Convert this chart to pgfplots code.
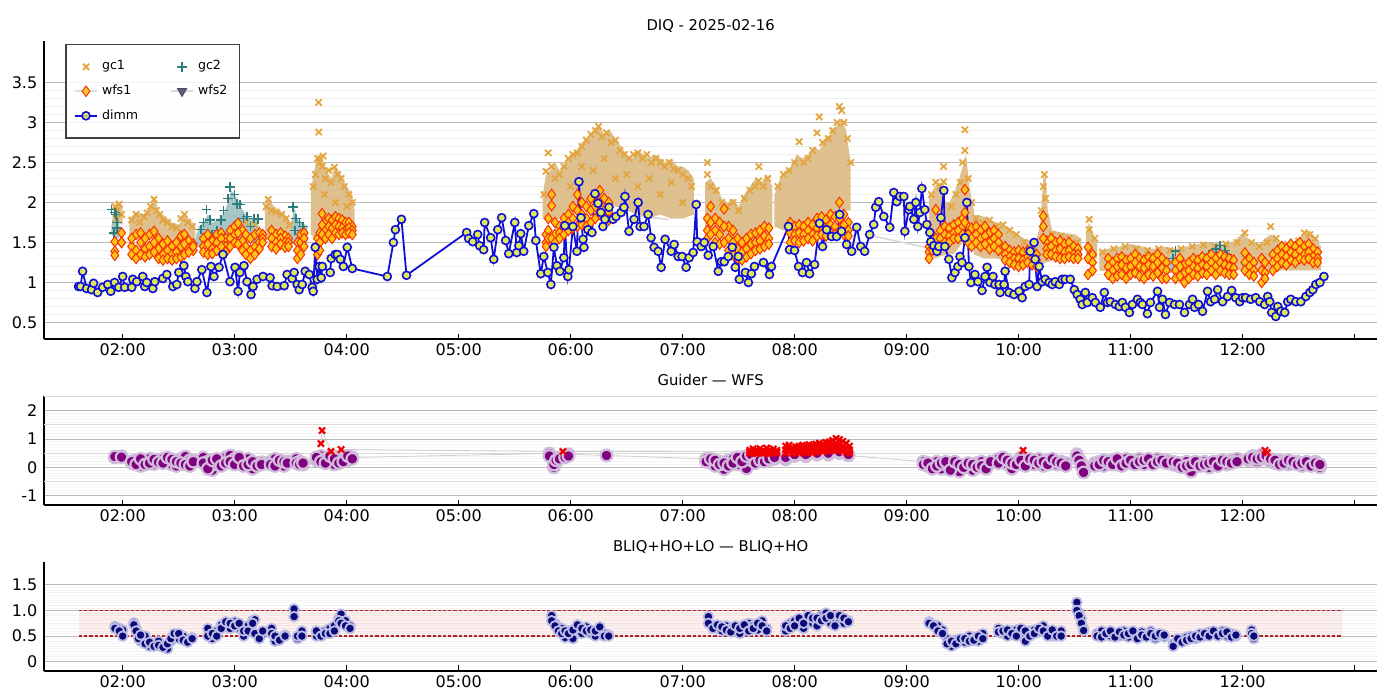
\documentclass[border=0pt]{standalone}
\usepackage{fontspec}
\setmainfont{DejaVu Sans}
\usepackage{pgfplots}
\pgfplotsset{compat=1.18}
\usepackage{pgfplotstable}

\definecolor{gcone}{RGB}{228,165,62}
\definecolor{gconecloud}{RGB}{222,192,142}
\definecolor{gctwo}{RGB}{45,125,125}
\definecolor{gctwocloud}{RGB}{165,198,196}
\definecolor{wfsfill}{RGB}{255,195,20}
\definecolor{wfsedge}{RGB}{245,50,0}
\definecolor{wfstwo}{RGB}{80,80,100}
\definecolor{dimmblue}{RGB}{15,15,215}
\definecolor{dimmfill}{RGB}{222,232,90}
\definecolor{purp}{RGB}{128,0,128}
\definecolor{purpedge}{RGB}{208,188,218}
\definecolor{redx}{RGB}{240,0,0}
\definecolor{navy}{RGB}{10,10,120}
\definecolor{navyedge}{RGB}{188,188,228}
\definecolor{dashred}{RGB}{180,30,30}

\pgfplotstableread{
t y1 y2 y3
1.93 1.51 1.39 1.34
1.99 1.62 1.5 1.5
2.08 1.45 1.35 1.55
2.12 1.6 1.4 1.3
2.16 1.5 1.62 1.35
2.2 1.42 1.55 1.32
2.24 1.6 1.45 1.35
2.28 1.64 1.5 1.38
2.32 1.55 1.42 1.3
2.36 1.48 1.35 1.28
2.4 1.52 1.4 1.3
2.44 1.45 1.35 1.28
2.48 1.5 1.38 1.3
2.52 1.58 1.45 1.32
2.55 1.6 1.48 1.35
2.59 1.52 1.42 1.38
2.63 1.48 1.4 1.45
2.72 1.55 1.45 1.38
2.76 1.6 1.48 1.35
2.8 1.52 1.42 1.36
2.84 1.6 1.5 1.4
2.88 1.62 1.55 1.45
2.92 1.55 1.45 1.38
2.96 1.65 1.55 1.45
3.0 1.7 1.6 1.5
3.03 1.74 1.62 1.48
3.07 1.65 1.52 1.4
3.1 1.6 1.45 1.35
3.14 1.55 1.4 1.3
3.18 1.6 1.45 1.35
3.22 1.62 1.5 1.42
3.25 1.6 1.55 1.5
3.33 1.65 1.55 1.45
3.37 1.6 1.5 1.42
3.41 1.62 1.55 1.48
3.45 1.58 1.5 1.44
3.48 1.55 1.5 1.45
3.56 1.5 1.4 1.3
3.59 1.6 1.5 1.35
3.62 1.62 1.55 1.45
3.74 1.55 1.45 1.35
3.76 1.62 1.5 1.4
3.78 1.86 1.72 1.6
3.81 1.75 1.65 1.55
3.84 1.8 1.7 1.6
3.87 1.78 1.68 1.55
3.9 1.82 1.72 1.62
3.93 1.8 1.7 1.6
3.96 1.78 1.68 1.62
3.99 1.75 1.65 1.6
4.02 1.75 1.68 1.62
4.05 1.7 1.65 1.6
5.78 1.6 1.5 1.45
5.8 1.8 1.65 1.55
5.83 2.1 1.96 1.55
5.86 1.75 1.6 1.5
5.9 1.7 1.62 1.55
5.94 1.8 1.7 1.6
5.98 1.85 1.75 1.65
6.02 1.95 1.8 1.68
6.06 2.1 1.9 1.7
6.1 2.0 1.85 1.72
6.14 1.95 1.8 1.7
6.18 2.05 1.9 1.75
6.22 2.1 1.95 1.8
6.26 2.15 2.0 1.85
6.3 2.05 1.9 1.8
6.34 2.0 1.88 1.78
7.22 1.8 1.65 1.55
7.25 1.95 1.75 1.6
7.29 1.8 1.65 1.5
7.33 1.75 1.6 1.48
7.37 1.92 1.7 1.5
7.41 1.7 1.55 1.4
7.45 1.65 1.5 1.35
7.49 1.55 1.42 1.3
7.53 1.5 1.38 1.28
7.57 1.55 1.42 1.32
7.61 1.6 1.48 1.36
7.65 1.62 1.5 1.4
7.69 1.65 1.52 1.42
7.73 1.7 1.58 1.45
7.77 1.68 1.55 1.48
7.96 1.75 1.62 1.5
8.0 1.7 1.6 1.52
8.04 1.72 1.62 1.5
8.08 1.7 1.6 1.52
8.12 1.75 1.65 1.55
8.16 1.72 1.6 1.52
8.2 1.8 1.68 1.58
8.24 1.82 1.7 1.6
8.28 1.78 1.68 1.58
8.32 1.85 1.72 1.62
8.36 1.82 1.7 1.6
8.4 2.0 1.8 1.65
8.44 1.85 1.72 1.6
8.48 1.75 1.65 1.58
9.2 1.45 1.38 1.3
9.23 1.6 1.5 1.4
9.26 1.91 1.55 1.42
9.3 1.65 1.55 1.45
9.34 1.7 1.6 1.5
9.38 1.68 1.58 1.5
9.42 1.72 1.62 1.55
9.46 1.75 1.65 1.55
9.5 1.8 1.7 1.6
9.52 2.16 1.875 1.75
9.55 1.7 1.6 1.5
9.58 1.68 1.55 1.45
9.62 1.7 1.6 1.5
9.66 1.65 1.55 1.45
9.7 1.7 1.58 1.48
9.74 1.62 1.5 1.42
9.78 1.65 1.55 1.45
9.82 1.6 1.5 1.4
9.88 1.45 1.35 1.28
9.92 1.4 1.32 1.25
9.96 1.38 1.3 1.22
10.0 1.4 1.3 1.2
10.04 1.38 1.28 1.22
10.08 1.4 1.32 1.25
10.12 1.38 1.3 1.22
10.16 1.35 1.28 1.2
10.22 1.83 1.7 1.55
10.25 1.52 1.42 1.35
10.29 1.55 1.45 1.35
10.33 1.5 1.4 1.32
10.37 1.52 1.42 1.3
10.41 1.48 1.38 1.3
10.45 1.5 1.4 1.32
10.49 1.45 1.35 1.3
10.53 1.42 1.35 1.3
10.62 1.44 1.3 1.1
10.66 1.35 1.25 1.15
10.8 1.3 1.2 1.1
10.84 1.25 1.15 1.05
10.88 1.3 1.2 1.08
10.92 1.32 1.22 1.1
10.96 1.28 1.18 1.05
11.0 1.3 1.2 1.1
11.04 1.35 1.25 1.12
11.08 1.3 1.2 1.08
11.12 1.28 1.18 1.05
11.16 1.32 1.22 1.1
11.2 1.3 1.2 1.08
11.24 1.35 1.25 1.12
11.28 1.3 1.18 1.05
11.32 1.25 1.15 1.05
11.4 1.25 1.15 1.05
11.44 1.3 1.2 1.08
11.48 1.22 1.12 1.0
11.52 1.25 1.15 1.05
11.56 1.3 1.2 1.1
11.6 1.28 1.18 1.08
11.64 1.32 1.22 1.12
11.68 1.3 1.2 1.1
11.72 1.35 1.25 1.15
11.76 1.3 1.2 1.1
11.8 1.35 1.25 1.15
11.84 1.32 1.22 1.12
11.88 1.3 1.2 1.1
11.92 1.28 1.18 1.1
12.02 1.37 1.25 1.15
12.06 1.3 1.2 1.1
12.1 1.25 1.15 1.08
12.17 1.3 1.15 1.0
12.2 1.25 1.12 1.05
12.27 1.35 1.25 1.15
12.31 1.4 1.3 1.2
12.35 1.45 1.35 1.25
12.39 1.42 1.32 1.22
12.43 1.48 1.38 1.28
12.47 1.45 1.35 1.25
12.51 1.5 1.4 1.3
12.55 1.45 1.35 1.28
12.59 1.48 1.38 1.3
12.63 1.42 1.32 1.25
12.67 1.38 1.3 1.25
}\wfsone

\pgfplotstableread{
t a b
1.93 0.35 0.38
1.99 0.39 0.36
2.08 0.15 0.2
2.12 0.25 0.1
2.16 0.05 0.3
2.2 0.2 0.1
2.24 0.3 0.15
2.28 0.12 0.28
2.32 0.25 0.18
2.36 0.3 0.15
2.4 0.22 0.35
2.44 0.1 0.28
2.48 0.05 0.2
2.52 0.3 0.15
2.56 0.38 0.1
2.6 0.25 0.05
2.63 0.25 0.2
2.72 0.35 0.15
2.76 0.2 -0.05
2.8 -0.1 0.25
2.84 0.1 0.3
2.88 0.2 0.05
2.92 0.35 0.15
2.96 0.42 0.2
3.0 0.3 0.1
3.04 0.15 0.35
3.08 0.25 0.05
3.12 0.3 0.1
3.16 -0.05 0.2
3.2 0.15 0.05
3.24 0.18 0.1
3.32 0.2 0.1
3.36 0.3 0.05
3.4 0.15 0.25
3.44 0.05 0.2
3.47 0.2 0.15
3.55 0.3 0.15
3.58 0.2 0.1
3.61 0.1 0.15
3.73 0.25 0.35
3.77 0.4 0.2
3.81 0.3 0.15
3.85 0.2 0.4
3.89 0.1 0.3
3.93 0.35 0.15
3.97 0.3 0.2
4.01 0.25 0.4
4.05 0.35 0.3
5.81 0.49 0.4
5.85 0.0 0.1
5.87 0.18 0.25
5.9 0.35 0.3
5.95 0.42 0.35
5.98 0.46 0.4
6.32 0.42 0.42
7.21 0.3 0.2
7.25 0.15 0.3
7.29 0.05 0.25
7.33 0.2 0.1
7.37 -0.07 0.15
7.41 0.25 0.05
7.45 0.3 0.15
7.49 0.1 0.35
7.53 0.35 0.2
7.57 -0.04 0.4
7.61 0.25 0.45
7.65 0.3 0.15
7.69 0.4 0.25
7.73 0.35 0.2
7.77 0.25 0.3
7.82 0.3 0.35
7.92 0.28 0.35
8.0 0.4 0.45
8.1 0.39 0.45
8.2 0.45 0.5
8.3 0.45 0.5
8.4 0.5 0.55
8.48 0.42 0.45
9.15 0.2 0.1
9.19 0.05 0.15
9.23 0.1 -0.05
9.27 0.2 0.05
9.31 -0.05 0.15
9.35 0.1 0.2
9.39 0.15 -0.1
9.43 0.0 0.2
9.47 -0.15 0.1
9.51 0.1 0.0
9.55 0.05 0.15
9.59 -0.1 0.1
9.63 0.15 0.0
9.67 0.2 0.05
9.71 0.1 -0.05
9.75 0.15 0.2
9.82 0.3 0.15
9.86 0.2 0.35
9.9 0.1 0.25
9.94 -0.05 0.15
9.98 0.2 0.1
10.02 0.35 0.25
10.06 0.15 0.05
10.1 0.2 0.3
10.14 0.1 0.25
10.18 0.3 0.15
10.22 0.05 0.2
10.26 0.25 0.1
10.3 0.15 0.3
10.34 0.1 0.2
10.38 0.2 0.15
10.42 0.15 0.05
10.52 0.46 0.4
10.54 0.3 0.25
10.56 0.15 0.05
10.58 -0.1 -0.18
10.68 0.15 0.05
10.72 0.2 0.1
10.76 0.05 0.25
10.8 0.15 0.2
10.84 0.25 0.1
10.88 0.1 0.3
10.92 0.2 0.05
10.96 0.3 0.15
11.0 0.15 0.25
11.04 0.2 0.1
11.08 0.3 0.2
11.12 0.1 0.25
11.16 0.25 0.3
11.2 0.15 0.1
11.24 0.3 0.2
11.28 0.2 0.25
11.32 0.25 0.15
11.38 0.1 0.2
11.42 0.05 0.15
11.46 0.15 0.0
11.5 0.2 0.05
11.54 -0.15 0.1
11.58 0.1 0.2
11.62 0.15 0.05
11.66 0.2 0.1
11.7 0.0 0.15
11.74 0.1 0.2
11.78 0.2 0.05
11.82 0.15 0.25
11.86 0.1 0.2
11.9 0.25 0.15
11.95 0.3 0.2
12.05 0.25 0.3
12.09 0.4 0.35
12.13 0.2 0.3
12.17 0.45 0.35
12.21 0.3 0.4
12.25 0.2 0.3
12.29 0.15 0.25
12.33 0.25 0.1
12.37 0.2 0.15
12.41 0.1 0.25
12.45 0.15 0.2
12.49 0.2 0.1
12.53 0.05 0.15
12.57 0.15 0.2
12.61 0.1 0.05
12.65 0.2 0.15
12.69 0.0 0.1
}\guid

\pgfplotstableread{
t a b c
7.6 0.5 0.6 0.55
7.63 0.55 0.65 0.5
7.66 0.5 0.62 0.58
7.69 0.52 0.66 0.55
7.72 0.5 0.6 0.56
7.75 0.55 0.68 0.5
7.78 0.5 0.62 0.57
7.81 0.52 0.65 0.55
7.84 0.5 0.6 0.55
7.92 0.5 0.75 0.62
7.95 0.55 0.78 0.65
7.98 0.5 0.7 0.6
8.01 0.52 0.72 0.62
8.04 0.5 0.75 0.6
8.07 0.55 0.78 0.65
8.1 0.52 0.75 0.62
8.13 0.55 0.8 0.68
8.16 0.5 0.78 0.65
8.19 0.55 0.82 0.68
8.22 0.58 0.85 0.7
8.25 0.55 0.82 0.7
8.28 0.6 0.88 0.72
8.31 0.58 0.9 0.75
8.34 0.62 0.95 0.78
8.37 0.6 1.02 0.8
8.4 0.62 0.98 0.8
8.43 0.58 0.92 0.75
8.46 0.55 0.85 0.7
8.49 0.5 0.75 0.62
}\redx

\pgfplotstableread{
t a b
1.93 0.69 0.65
1.97 0.65 0.6
2.0 0.62 0.5
2.1 0.76 0.72
2.12 0.65 0.6
2.14 0.5 0.45
2.16 0.4 0.52
2.2 0.5 0.35
2.24 0.3 0.38
2.28 0.35 0.3
2.32 0.4 0.32
2.36 0.3 0.28
2.4 0.25 0.35
2.43 0.4 0.45
2.46 0.5 0.55
2.5 0.45 0.55
2.54 0.5 0.42
2.58 0.4 0.38
2.62 0.47 0.45
2.76 0.65 0.5
2.8 0.45 0.55
2.84 0.6 0.5
2.88 0.72 0.65
2.92 0.7 0.78
2.96 0.65 0.75
3.0 0.78 0.7
3.04 0.65 0.75
3.08 0.5 0.6
3.12 0.7 0.6
3.16 0.8 0.75
3.18 0.82 0.55
3.22 0.5 0.45
3.25 0.55 0.6
3.33 0.65 0.55
3.36 0.4 0.5
3.4 0.45 0.42
3.45 0.52 0.5
3.53 1.03 0.88
3.56 0.45 0.5
3.6 0.6 0.5
3.73 0.5 0.6
3.77 0.55 0.5
3.81 0.6 0.55
3.85 0.65 0.55
3.89 0.7 0.6
3.93 0.85 0.8
3.95 0.93 0.75
3.99 0.8 0.7
4.03 0.7 0.65
5.83 0.9 0.8
5.86 0.75 0.7
5.89 0.68 0.6
5.92 0.65 0.55
5.95 0.47 0.6
5.98 0.6 0.55
6.02 0.45 0.62
6.06 0.6 0.72
6.1 0.55 0.65
6.14 0.68 0.6
6.18 0.55 0.62
6.22 0.5 0.6
6.26 0.6 0.68
6.3 0.55 0.5
6.34 0.52 0.5
7.23 0.88 0.75
7.27 0.7 0.65
7.31 0.65 0.72
7.35 0.6 0.68
7.39 0.7 0.62
7.43 0.65 0.58
7.47 0.6 0.7
7.51 0.55 0.65
7.55 0.68 0.72
7.59 0.75 0.6
7.63 0.7 0.65
7.67 0.62 0.75
7.71 0.8 0.7
7.75 0.65 0.6
7.92 0.6 0.7
7.96 0.75 0.65
8.0 0.8 0.7
8.04 0.72 0.85
8.08 0.65 0.75
8.12 0.8 0.9
8.16 0.75 0.85
8.2 0.7 0.85
8.24 0.9 0.8
8.28 0.95 0.85
8.32 0.75 0.9
8.36 0.85 0.7
8.4 0.8 0.9
8.44 0.75 0.85
8.48 0.8 0.78
9.2 0.78 0.75
9.24 0.72 0.7
9.28 0.7 0.6
9.32 0.62 0.55
9.36 0.45 0.35
9.4 0.3 0.4
9.44 0.42 0.35
9.48 0.4 0.45
9.52 0.38 0.45
9.56 0.5 0.4
9.6 0.45 0.42
9.64 0.4 0.5
9.68 0.55 0.45
9.82 0.65 0.58
9.86 0.55 0.6
9.9 0.5 0.62
9.94 0.6 0.55
9.98 0.62 0.5
10.02 0.55 0.65
10.06 0.4 0.6
10.1 0.6 0.5
10.14 0.62 0.55
10.18 0.58 0.65
10.22 0.7 0.6
10.26 0.6 0.5
10.3 0.5 0.62
10.34 0.55 0.5
10.38 0.6 0.5
10.52 1.16 1.0
10.54 0.96 0.9
10.56 0.84 0.75
10.58 0.65 0.61
10.7 0.55 0.5
10.74 0.6 0.48
10.78 0.52 0.55
10.82 0.5 0.6
10.86 0.55 0.48
10.9 0.5 0.58
10.94 0.6 0.52
10.98 0.48 0.55
11.02 0.55 0.6
11.06 0.5 0.45
11.1 0.58 0.52
11.14 0.52 0.48
11.18 0.6 0.55
11.22 0.45 0.5
11.26 0.5 0.55
11.3 0.48 0.52
11.38 0.35 0.3
11.42 0.4 0.45
11.46 0.45 0.38
11.5 0.48 0.42
11.54 0.5 0.45
11.58 0.45 0.5
11.62 0.55 0.48
11.66 0.5 0.55
11.7 0.58 0.5
11.74 0.55 0.6
11.78 0.52 0.5
11.82 0.6 0.55
11.86 0.5 0.58
11.9 0.55 0.48
11.94 0.5 0.52
12.08 0.62 0.55
12.1 0.45 0.5
}\bliq

\pgfplotsset{
  every axis title/.style={at={(0.5,1)}, anchor=base, yshift=5pt, font=\fontsize{7.4}{8.5}\selectfont},
  base/.style={
    scale only axis, width=666.35pt, xmin=1.30, xmax=13.2,
    anchor=south west,
    axis x line*=bottom, axis y line*=left,
    axis line style={-, line width=0.8pt, black},
    xtick={2,3,4,5,6,7,8,9,10,11,12,13},
    xticklabels={02:00,03:00,04:00,05:00,06:00,07:00,08:00,09:00,10:00,11:00,12:00,{}},
    xtick align=inside, major tick length=2.7pt,
    xtick style={black, line width=0.5pt},
    ytick style={draw=none}, minor tick length=0pt,
    ymajorgrids, yminorgrids,
    major grid style={gray!55, line width=0.5pt},
    tick label style={font=\fontsize{8}{9}\selectfont},
    xticklabel style={yshift=1.3pt},
    /pgf/number format/assume math mode=true,
  },
  shortleg/.style={legend image code/.code={\draw[mark repeat=2,mark phase=2,##1] plot coordinates {(0pt,0pt) (5.5pt,0pt) (11pt,0pt)};}},
  purpmark/.style={mark=*, mark size=2.9pt, mark options={fill=purp, draw=purpedge, line width=1.1pt}},
  navymark/.style={mark=*, mark size=2.4pt, mark options={fill=navy, draw=navyedge, line width=0.9pt}},
}

\begin{document}
\begin{tikzpicture}
\path[use as bounding box] (0,0) rectangle (700pt,350pt);

% ---------------- top axis ----------------
\begin{axis}[base, at={(22.15pt,180.35pt)}, height=149.2pt,
  ymin=0.29, ymax=4.02, ytick={0.5,1,1.5,2,2.5,3,3.5}, minor y tick num=4,
  minor grid style={gray!14, line width=0.5pt},
  title={DIQ - 2025-02-16},
  legend columns=2,
  legend style={at={(0,1)}, anchor=north west, xshift=10.5pt, yshift=-1.5pt,
    draw=black!75, line width=0.7pt, fill=white, fill opacity=0.85, text opacity=1, draw opacity=1,
    font=\fontsize{6.3}{7.5}\selectfont, inner xsep=4pt, inner ysep=6pt, row sep=2pt,
    /tikz/every even column/.append style={column sep=14pt}},
  legend cell align=left,
]
% gc1 clouds
\addplot[fill=gconecloud, draw=none, forget plot] coordinates {(1.92,1.85)(1.94,2.0)(1.97,1.98)(2.0,1.95)(2.0,1.72)(1.96,1.75)(1.92,1.75)};
\addplot[fill=gconecloud, draw=none, forget plot] coordinates {(2.06,1.8)(2.12,1.88)(2.18,1.85)(2.22,1.9)(2.26,2.0)(2.29,2.05)(2.32,1.9)(2.38,1.82)(2.44,1.75)(2.5,1.72)(2.55,1.85)(2.6,1.78)(2.65,1.72)(2.65,1.5)(2.55,1.5)(2.45,1.48)(2.35,1.5)(2.25,1.55)(2.15,1.55)(2.06,1.55)};
\addplot[fill=gconecloud, draw=none, forget plot] coordinates {(3.27,1.95)(3.3,2.05)(3.35,1.95)(3.4,1.9)(3.45,1.85)(3.5,1.75)(3.5,1.5)(3.4,1.55)(3.27,1.55)};
\addplot[fill=gconecloud, draw=none, forget plot] coordinates {(3.68,2.15)(3.71,2.4)(3.74,2.6)(3.78,2.55)(3.82,2.4)(3.86,2.3)(3.9,2.45)(3.95,2.35)(4.0,2.2)(4.05,2.1)(4.07,1.9)(4.07,1.6)(4.0,1.6)(3.9,1.65)(3.8,1.6)(3.72,1.55)(3.68,1.6)};
\addplot[fill=gconecloud, draw=none, forget plot] coordinates {(5.75,2.1)(5.78,2.35)(5.82,2.4)(5.86,2.5)(5.9,2.4)(5.95,2.5)(6.0,2.6)(6.05,2.65)(6.1,2.75)(6.15,2.8)(6.2,2.9)(6.25,2.97)(6.3,2.85)(6.35,2.9)(6.4,2.8)(6.45,2.7)(6.5,2.6)(6.55,2.55)(6.6,2.65)(6.65,2.6)(6.7,2.55)(6.75,2.6)(6.8,2.55)(6.85,2.5)(6.9,2.55)(6.95,2.45)(7.0,2.45)(7.05,2.4)(7.1,2.3)(7.1,1.85)(7.0,1.8)(6.9,1.8)(6.8,1.85)(6.7,1.8)(6.6,1.85)(6.5,1.9)(6.4,1.95)(6.3,1.95)(6.2,1.9)(6.1,1.95)(6.0,1.85)(5.9,1.8)(5.8,1.75)(5.75,1.8)};
\addplot[fill=gconecloud, draw=none, forget plot] coordinates {(7.2,2.25)(7.25,2.3)(7.3,2.2)(7.35,2.05)(7.4,2.0)(7.45,2.05)(7.5,1.95)(7.55,2.1)(7.6,2.2)(7.65,2.3)(7.7,2.25)(7.75,2.35)(7.8,2.2)(7.8,1.65)(7.7,1.55)(7.6,1.45)(7.5,1.45)(7.4,1.5)(7.3,1.6)(7.2,1.7)};
\addplot[fill=gconecloud, draw=none, forget plot] coordinates {(7.82,2.1)(7.87,2.3)(7.92,2.4)(7.97,2.45)(8.02,2.6)(8.07,2.55)(8.12,2.6)(8.17,2.7)(8.22,2.65)(8.27,2.8)(8.32,2.85)(8.37,2.95)(8.42,3.05)(8.46,2.9)(8.5,2.5)(8.5,1.9)(8.4,1.9)(8.3,1.85)(8.2,1.8)(8.1,1.75)(8.0,1.7)(7.9,1.65)(7.82,1.7)};
\addplot[fill=gconecloud, draw=none, forget plot] coordinates {(9.2,2.05)(9.25,2.2)(9.3,2.25)(9.35,2.0)(9.38,2.0)(9.42,2.1)(9.47,2.3)(9.5,2.45)(9.53,2.6)(9.56,2.2)(9.6,1.9)(9.6,1.45)(9.5,1.5)(9.42,1.35)(9.35,1.35)(9.25,1.3)(9.2,1.4)};
\addplot[fill=gconecloud, draw=none, forget plot] coordinates {(9.6,1.85)(9.7,1.82)(9.8,1.75)(9.9,1.7)(9.97,1.62)(10.05,1.55)(10.15,1.5)(10.19,1.7)(10.22,2.3)(10.24,2.35)(10.26,1.9)(10.3,1.65)(10.4,1.62)(10.5,1.6)(10.56,1.55)(10.56,1.3)(10.45,1.28)(10.35,1.3)(10.25,1.25)(10.15,1.2)(10.05,1.2)(9.95,1.25)(9.8,1.3)(9.7,1.3)(9.6,1.35)};
\addplot[fill=gconecloud, draw=none, forget plot] coordinates {(10.6,1.6)(10.63,1.75)(10.67,1.6)(10.7,1.5)(10.7,1.3)(10.6,1.3)};
\addplot[fill=gconecloud, draw=none, forget plot] coordinates {(10.72,1.4)(10.9,1.45)(11.0,1.48)(11.1,1.45)(11.2,1.42)(11.3,1.45)(11.4,1.42)(11.5,1.45)(11.6,1.48)(11.7,1.5)(11.8,1.48)(11.9,1.5)(11.95,1.55)(12.0,1.62)(12.05,1.55)(12.1,1.5)(12.15,1.48)(12.2,1.55)(12.25,1.6)(12.3,1.55)(12.35,1.5)(12.45,1.5)(12.55,1.6)(12.6,1.65)(12.65,1.55)(12.7,1.45)(12.7,1.15)(12.5,1.15)(12.3,1.15)(12.1,1.15)(11.9,1.15)(11.7,1.15)(11.5,1.12)(11.3,1.12)(11.1,1.12)(10.9,1.12)(10.72,1.15)};
% gc1 markers
\addplot[only marks, mark=x, mark size=2.2pt, color=gcone, mark options={line width=0.9pt}, shortleg] coordinates {
(1.93,1.95)(1.95,1.9)(1.97,1.98)(1.99,1.85)(1.94,1.8)
(2.08,1.78)(2.12,1.85)(2.15,1.75)(2.19,1.82)(2.22,1.87)(2.25,1.95)(2.28,2.04)(2.3,1.9)(2.33,1.85)(2.36,1.78)(2.4,1.75)(2.44,1.7)(2.48,1.68)(2.52,1.8)(2.55,1.85)(2.58,1.75)(2.62,1.7)
(3.0,1.7)(3.1,1.75)(3.18,1.72)
(3.28,1.95)(3.3,2.04)(3.33,1.9)(3.37,1.88)(3.42,1.85)(3.46,1.8)(3.49,1.72)
(3.7,2.2)(3.72,2.35)(3.74,2.55)(3.75,3.25)(3.75,2.88)(3.76,2.5)(3.78,2.45)(3.79,2.58)(3.81,2.3)(3.84,2.4)(3.86,2.25)(3.89,2.44)(3.92,2.35)(3.95,2.3)(3.98,2.2)(4.02,2.1)(4.05,2.0)(3.8,2.1)(3.9,2.0)(4.0,1.95)
(5.76,2.1)(5.78,2.39)(5.8,2.62)(5.83,2.45)(5.86,2.3)(5.9,2.35)(5.94,2.45)(5.98,2.55)(6.02,2.6)(6.06,2.62)(6.1,2.7)(6.14,2.78)(6.18,2.85)(6.22,2.9)(6.25,2.95)(6.28,2.82)(6.32,2.87)(6.36,2.75)(6.4,2.78)(6.44,2.65)(6.48,2.6)(6.52,2.55)(6.56,2.6)(6.6,2.62)(6.64,2.55)(6.68,2.6)(6.72,2.5)(6.76,2.55)(6.8,2.5)(6.84,2.45)(6.88,2.5)(6.92,2.42)(6.96,2.4)(7.0,2.35)(7.05,2.3)(7.08,2.2)
(6.0,2.2)(6.2,2.4)(6.4,2.3)(6.6,2.2)(6.8,2.1)(7.0,2.0)(6.3,2.55)(6.5,2.35)(6.7,2.3)(6.9,2.25)(6.1,2.45)
(7.22,2.5)(7.22,2.35)(7.25,2.2)(7.3,2.15)(7.35,2.0)(7.4,1.95)(7.45,2.0)(7.5,1.9)(7.55,2.05)(7.6,2.15)(7.65,2.2)(7.68,2.45)(7.68,2.27)(7.72,2.2)(7.76,2.3)
(7.85,2.2)(7.9,2.35)(7.95,2.4)(8.0,2.5)(8.04,2.76)(8.08,2.5)(8.12,2.55)(8.16,2.65)(8.2,2.87)(8.22,3.07)(8.25,2.75)(8.3,2.8)(8.34,2.9)(8.38,3.0)(8.4,3.2)(8.42,3.15)(8.44,3.0)(8.47,2.8)(8.5,2.5)
(9.22,2.1)(9.26,2.25)(9.3,2.2)(9.33,2.45)(9.33,2.26)(9.4,1.95)(9.44,2.1)(9.48,2.25)(9.5,2.5)(9.52,2.91)(9.52,2.65)(9.55,2.3)(9.58,2.0)
(9.62,1.8)(9.68,1.75)(9.74,1.78)(9.8,1.7)(9.86,1.72)(9.92,1.65)(9.98,1.6)(10.05,1.5)(10.12,1.45)(10.2,1.9)(10.22,2.2)(10.23,2.35)(10.24,2.05)(10.3,1.6)(10.38,1.58)(10.45,1.55)(10.52,1.5)(10.63,1.79)(10.63,1.66)(10.68,1.55)
(10.75,1.38)(10.85,1.42)(10.95,1.45)(11.05,1.42)(11.15,1.4)(11.25,1.42)(11.35,1.4)(11.45,1.42)(11.55,1.45)(11.65,1.47)(11.75,1.45)(11.85,1.48)(11.95,1.5)(12.02,1.62)(12.08,1.5)(12.15,1.45)(12.22,1.5)(12.25,1.7)(12.3,1.55)(12.4,1.48)(12.5,1.52)(12.55,1.62)(12.6,1.6)(12.65,1.55)
};
\addlegendentry{gc1}
% gc2 clouds
\addplot[fill=gctwocloud, draw=none, forget plot] coordinates {(1.9,1.7)(1.92,1.9)(1.95,1.9)(1.97,1.75)(1.97,1.55)(1.93,1.55)(1.9,1.6)};
\addplot[fill=gctwocloud, draw=none, forget plot] coordinates {(2.65,1.55)(2.68,1.7)(2.72,1.75)(2.76,1.85)(2.8,1.75)(2.85,1.78)(2.9,1.85)(2.94,2.0)(2.97,2.15)(3.0,2.1)(3.05,1.95)(3.1,1.85)(3.15,1.8)(3.2,1.78)(3.22,1.65)(3.22,1.5)(3.1,1.5)(3.0,1.52)(2.9,1.5)(2.8,1.48)(2.7,1.45)(2.65,1.45)};
\addplot[fill=gctwocloud, draw=none, forget plot] coordinates {(3.5,1.7)(3.53,1.94)(3.56,1.8)(3.6,1.75)(3.65,1.7)(3.65,1.45)(3.55,1.45)(3.5,1.5)};
\addplot[fill=gctwocloud, draw=none, forget plot] coordinates {(11.35,1.3)(11.38,1.39)(11.42,1.3)(11.45,1.25)(11.45,1.15)(11.35,1.15)};
\addplot[fill=gctwocloud, draw=none, forget plot] coordinates {(11.55,1.3)(11.65,1.35)(11.72,1.42)(11.78,1.46)(11.85,1.4)(11.9,1.35)(11.92,1.25)(11.75,1.2)(11.55,1.2)};
\addplot[only marks, mark=+, mark size=2.4pt, color=gctwo, mark options={line width=0.8pt}, shortleg] coordinates {
(1.90,1.91)(1.93,1.875)(1.95,1.75)(1.94,1.85)(1.95,1.68)(1.92,1.62)
(2.7,1.66)(2.72,1.75)(2.75,1.91)(2.78,1.78)(2.8,1.6)(2.84,1.65)(2.88,1.78)(2.9,1.9)(2.94,2.05)(2.96,2.19)(3.0,2.1)(3.02,1.98)(3.05,1.975)(3.08,1.8)(3.11,1.825)(3.14,1.7)(3.17,1.8)(3.21,1.79)(2.74,1.55)
(3.52,1.94)(3.55,1.8)(3.58,1.75)(3.61,1.7)(3.54,1.65)
(11.4,1.39)(11.38,1.3)(11.8,1.46)(11.84,1.4)(11.86,1.35)(11.7,1.35)(11.76,1.42)
};
\addlegendentry{gc2}
% wfs1
\addplot[only marks, mark=diamond*, mark size=2.6pt, mark options={fill=wfsfill, draw=wfsedge, line width=0.5pt},
  legend image code/.code={\draw[gray!25, line width=1pt] (0pt,0pt) -- (11pt,0pt); \draw plot coordinates {(5.5pt,0pt)};}]
  table[x=t, y=y1] {\wfsone};
\addlegendentry{wfs1}
% wfs2
\addplot[gray!30, line width=0.8pt, unbounded coords=jump,
  legend image code/.code={\draw[gray!30, line width=1pt] (0pt,0pt) -- (11pt,0pt); \draw[wfstwo, fill=wfstwo] plot[mark=triangle*, only marks, mark size=2.3pt, mark options={rotate=180}] coordinates {(5.5pt,0pt)};}]
  coordinates {(6.6,1.83)(6.87,1.79)(7.0,nan)(8.7,1.58)(9.2,1.43)};
\addlegendentry{wfs2}
\addplot[only marks, mark=diamond*, mark size=2.6pt, mark options={fill=wfsfill, draw=wfsedge, line width=0.5pt}, forget plot] table[x=t, y=y2] {\wfsone};
\addplot[only marks, mark=diamond*, mark size=2.6pt, mark options={fill=wfsfill, draw=wfsedge, line width=0.5pt}, forget plot] table[x=t, y=y3] {\wfsone};
% dimm
\addplot[color=dimmblue, line width=0.9pt, mark=*, mark size=2pt, mark options={fill=dimmfill, draw=dimmblue, line width=0.8pt}, shortleg] table {
t y
1.606 0.95
1.624 0.95
1.642 1.14
1.678 0.925
1.722 0.91
1.740 0.99
1.776 0.875
1.821 0.94
1.866 0.975
1.893 0.89
1.928 1.0
1.964 0.94
2.0 1.075
2.018 0.94
2.081 0.94
2.09 1.04
2.125 1.01
2.179 1.075
2.197 0.95
2.215 1.0
2.269 0.925
2.287 1.01
2.358 1.05
2.394 1.1
2.448 0.95
2.483 0.975
2.501 1.125
2.546 1.21
2.564 1.075
2.582 1.01
2.645 0.925
2.663 1.01
2.707 1.16
2.752 0.875
2.788 1.2
2.815 1.075
2.86 1.19
2.895 1.35
2.958 1.01
3.003 1.19
3.03 0.89
3.047 1.125
3.083 1.21
3.11 1.01
3.146 0.85
3.164 0.95
3.2 1.04
3.253 1.075
3.316 1.06
3.334 0.96
3.379 0.95
3.442 0.96
3.468 1.1
3.513 1.05
3.531 1.125
3.558 0.975
3.576 0.91
3.603 0.975
3.63 1.14
3.665 1.1
3.692 0.94
3.701 0.89
3.719 1.44
3.737 1.04
3.755 1.2
3.773 1.06
3.782 1.2
3.853 1.125
3.862 1.3
3.898 1.35
3.916 1.35
3.943 1.29
3.97 1.2
4.005 1.44
4.05 1.175
4.363 1.075
4.417 1.5
4.435 1.66
4.489 1.79
4.534 1.09
5.071 1.625
5.089 1.55
5.125 1.51
5.17 1.6
5.187 1.46
5.223 1.41
5.232 1.75
5.286 1.56
5.313 1.29
5.349 1.66
5.384 1.81
5.42 1.525
5.447 1.36
5.501 1.75
5.519 1.375
5.537 1.46
5.554 1.61
5.581 1.39
5.626 1.71
5.671 1.86
5.689 1.525
5.733 1.11
5.76 1.325
5.796 1.125
5.823 0.975
5.85 1.44
5.877 1.21
5.904 1.14
5.939 1.31
5.948 1.71
5.975 1.075
5.984 1.16
6.02 1.7
6.056 1.39
6.074 2.26
6.092 1.81
6.11 1.54
6.119 1.44
6.154 1.66
6.19 1.625
6.217 2.11
6.244 1.99
6.27 1.875
6.288 1.7
6.306 1.79
6.342 1.94
6.378 1.79
6.405 1.825
6.45 1.875
6.476 1.94
6.485 2.075
6.521 1.64
6.566 1.79
6.602 2.0
6.62 1.7
6.655 1.7
6.691 1.85
6.718 1.56
6.745 1.44
6.781 1.39
6.808 1.19
6.843 1.54
6.897 1.39
6.924 1.475
6.96 1.325
6.995 1.325
7.031 1.19
7.058 1.31
7.094 1.375
7.121 1.975
7.13 1.51
7.166 1.45
7.193 1.5
7.228 1.34
7.273 1.45
7.318 1.14
7.345 1.26
7.372 1.26
7.407 1.325
7.443 1.44
7.47 1.19
7.497 1.325
7.506 1.04
7.56 1.125
7.587 1.0
7.614 1.11
7.641 1.2
7.721 1.25
7.775 1.1
7.793 1.2
7.945 1.7
7.954 1.41
7.999 1.4
8.035 1.2
8.07 1.125
8.106 1.25
8.133 1.11
8.178 1.225
8.222 1.74
8.249 1.45
8.285 1.66
8.33 1.575
8.375 1.575
8.402 1.85
8.419 1.64
8.464 1.475
8.509 1.39
8.554 1.69
8.59 1.45
8.625 1.39
8.67 1.6
8.706 1.725
8.724 1.94
8.751 2.01
8.796 1.825
8.849 1.69
8.885 2.125
8.912 2.01
8.939 2.075
8.975 2.075
8.984 1.64
9.019 1.91
9.028 1.95
9.064 1.79
9.082 2.0
9.1 1.7
9.118 1.875
9.136 2.175
9.162 1.91
9.18 1.725
9.207 1.625
9.216 1.51
9.243 1.46
9.27 1.39
9.288 1.45
9.306 1.81
9.332 2.15
9.341 1.45
9.377 1.29
9.404 1.06
9.431 1.125
9.458 1.2
9.476 1.325
9.494 1.25
9.52 1.56
9.538 2.0
9.556 1.2
9.574 1.0
9.61 1.1
9.637 1.01
9.673 0.9
9.7 1.075
9.718 1.19
9.744 1.0
9.771 1.075
9.789 0.975
9.825 0.975
9.834 0.875
9.87 0.975
9.879 1.14
9.914 0.875
9.959 0.85
10.004 0.89
10.031 0.81
10.058 0.95
10.094 0.975
10.103 1.39
10.138 1.5
10.147 1.29
10.165 0.95
10.183 1.2
10.21 1.01
10.237 1.04
10.273 1.0
10.3 0.975
10.327 1.01
10.363 0.975
10.389 1.04
10.416 1.04
10.461 1.04
10.497 0.91
10.523 0.85
10.55 0.79
10.568 0.725
10.595 0.875
10.613 0.75
10.658 0.81
10.685 0.75
10.729 0.69
10.765 0.875
10.792 0.75
10.819 0.76
10.864 0.725
10.899 0.7
10.926 0.75
10.953 0.69
10.989 0.625
11.016 0.725
11.061 0.79
11.087 0.75
11.105 0.725
11.15 0.61
11.177 0.75
11.24 0.89
11.258 0.69
11.284 0.79
11.311 0.6
11.347 0.75
11.392 0.725
11.436 0.725
11.481 0.625
11.526 0.725
11.553 0.79
11.571 0.69
11.606 0.725
11.642 0.64
11.687 0.89
11.714 0.76
11.75 0.79
11.777 0.91
11.821 0.76
11.866 0.825
11.902 0.9
11.938 0.81
11.974 0.76
12.0 0.81
12.027 0.81
12.072 0.79
12.117 0.81
12.153 0.76
12.197 0.725
12.224 0.825
12.242 0.76
12.26 0.625
12.296 0.575
12.314 0.7
12.341 0.64
12.376 0.625
12.403 0.76
12.43 0.79
12.475 0.76
12.52 0.76
12.565 0.825
12.6 0.875
12.627 0.91
12.654 0.975
12.69 1.0
12.726 1.075
};
\addlegendentry{dimm}
\end{axis}

% ---------------- middle axis ----------------
\begin{axis}[base, at={(22.15pt,97.5pt)}, height=54.5pt,
  ymin=-1.33, ymax=2.52, ytick={-1,0,1,2}, minor y tick num=9,
  minor grid style={gray!8, line width=0.4pt},
  extra y ticks={-0.5,0.5,1.5,2.5}, extra y tick labels={},
  extra y tick style={grid=major, major grid style={gray!30, line width=0.5pt}},
  title={Guider — WFS},
]
\addplot[color=gray!40, line width=0.4pt, purpmark] table[x=t, y=a] {\guid};
\addplot[only marks, purpmark] table[x=t, y=b] {\guid};
\addplot[color=gray!40, line width=0.4pt] coordinates {(3.77,0.84)(3.78,1.3)(3.86,0.56)(3.95,0.63)(5.93,0.56)(7.6,0.55)};
\addplot[only marks, mark=x, mark size=2.2pt, color=redx, mark options={line width=1.1pt}] coordinates {(3.77,0.84)(3.78,1.3)(3.86,0.56)(3.95,0.63)(5.93,0.56)(10.04,0.6)(12.2,0.6)(12.22,0.52)};
\addplot[only marks, mark=x, mark size=2.2pt, color=redx, mark options={line width=1.1pt}] table[x=t, y=a] {\redx};
\addplot[only marks, mark=x, mark size=2.2pt, color=redx, mark options={line width=1.1pt}] table[x=t, y=b] {\redx};
\addplot[only marks, mark=x, mark size=2.2pt, color=redx, mark options={line width=1.1pt}] table[x=t, y=c] {\redx};
\end{axis}

% ---------------- bottom axis ----------------
\begin{axis}[base, at={(22.15pt,14.65pt)}, height=54.5pt,
  ymin=-0.176, ymax=1.953, ytick={0,0.5,1,1.5}, yticklabels={0,0.5,1.0,1.5}, minor y tick num=9,
  minor grid style={gray!9, line width=0.4pt},
  title={BLIQ+HO+LO — BLIQ+HO},
]
\addplot[fill=red, fill opacity=0.06, draw=none] coordinates {(1.61,0.5)(12.886,0.5)(12.886,1.0)(1.61,1.0)};
\addplot[only marks, navymark] table[x=t, y=a] {\bliq};
\addplot[only marks, navymark] table[x=t, y=b] {\bliq};
\addplot[dashred, line width=0.6pt, dash pattern=on 1.6pt off 1pt] coordinates {(1.61,1.0)(12.886,1.0)};
\addplot[dashred, line width=0.6pt, dash pattern=on 1.6pt off 1pt] coordinates {(1.61,0.5)(12.886,0.5)};
\end{axis}
\end{tikzpicture}
\end{document}
